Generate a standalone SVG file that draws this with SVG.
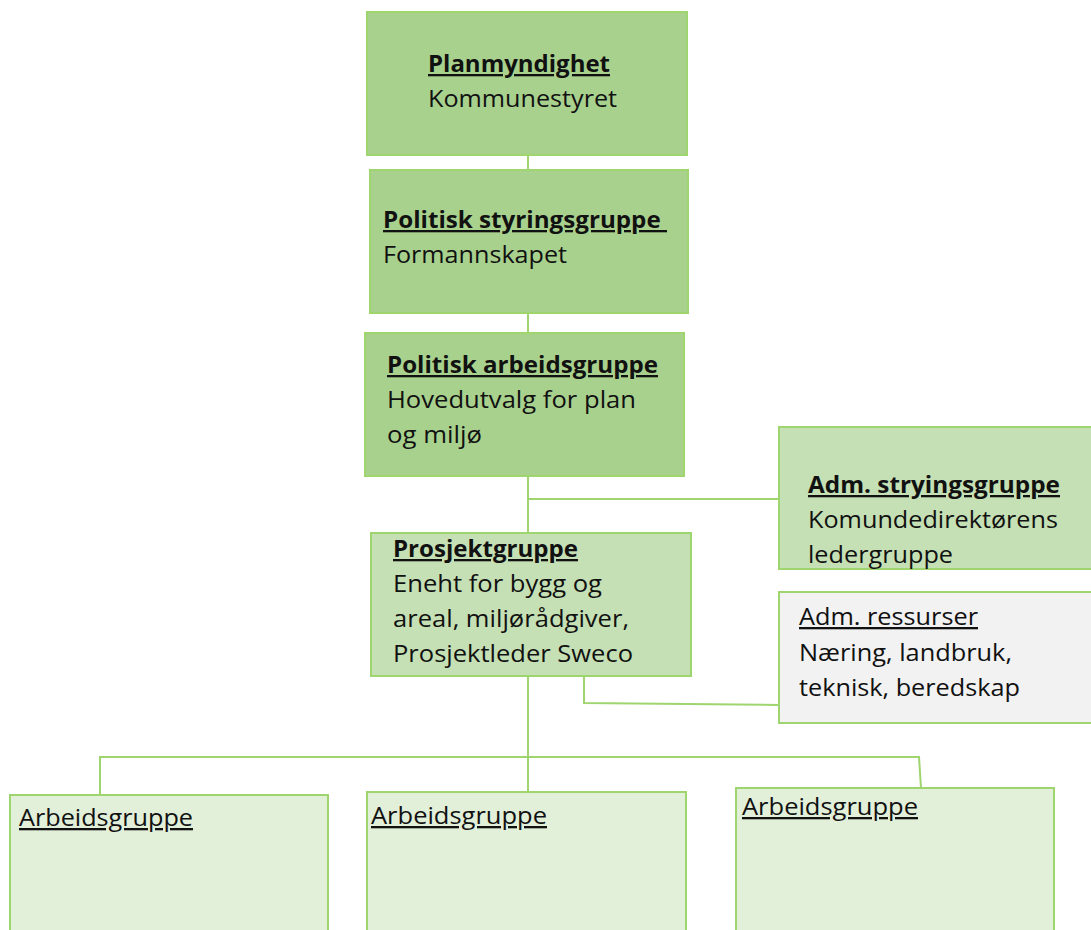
<svg xmlns="http://www.w3.org/2000/svg" width="1091" height="930" viewBox="0 0 1091 930">
<style>
.box{stroke:#9fd56f;stroke-width:2}
.d{fill:#a9d18e}
.m{fill:#c5e0b4}
.l{fill:#e2efd9}
.g{fill:#f2f2f2}
.c{fill:none;stroke:#9fd56f;stroke-width:2}
text{font-family:"Open Sans","Noto Sans","Liberation Sans",sans-serif;font-size:23px;fill:#111}
.b{font-weight:bold;text-decoration:underline}
.u{text-decoration:underline}
</style>
<rect width="1091" height="930" fill="#fff"/>
<g id="connectors">
<line class="c" x1="528" y1="155" x2="528" y2="170"/>
<line class="c" x1="528" y1="313" x2="528" y2="333"/>
<line class="c" x1="528" y1="476" x2="528" y2="533"/>
<line class="c" x1="528" y1="499" x2="779" y2="499"/>
<polyline class="c" points="584,676 584,703 779,705"/>
<line class="c" x1="528" y1="676" x2="528" y2="792"/>
<polyline class="c" points="100,795 100,757 919,757 921,788"/>
</g>
<g id="planmyndighet">
<rect class="box d" x="367" y="12" width="320" height="143"/>
<text class="b" x="428" y="72" textLength="182" lengthAdjust="spacingAndGlyphs">Planmyndighet</text>
<text x="428" y="107" textLength="189" lengthAdjust="spacingAndGlyphs">Kommunestyret</text>
</g>
<g id="politisk-styringsgruppe">
<rect class="box d" x="370" y="170" width="318" height="143"/>
<text class="b" x="383" y="228" textLength="284" lengthAdjust="spacingAndGlyphs" xml:space="preserve">Politisk styringsgruppe </text>
<text x="383" y="263" textLength="184" lengthAdjust="spacingAndGlyphs">Formannskapet</text>
</g>
<g id="politisk-arbeidsgruppe">
<rect class="box d" x="365" y="333" width="319" height="143"/>
<text class="b" x="387" y="373" textLength="271" lengthAdjust="spacingAndGlyphs">Politisk arbeidsgruppe</text>
<text x="387" y="408" textLength="249" lengthAdjust="spacingAndGlyphs">Hovedutvalg for plan</text>
<text x="387" y="443" textLength="95" lengthAdjust="spacingAndGlyphs">og miljø</text>
</g>
<g id="adm-styringsgruppe">
<rect class="box m" x="779" y="427" width="320" height="142"/>
<text class="b" x="808" y="493" textLength="252" lengthAdjust="spacingAndGlyphs">Adm. stryingsgruppe</text>
<text x="808" y="528" textLength="250" lengthAdjust="spacingAndGlyphs">Komundedirektørens</text>
<text x="808" y="563" textLength="145" lengthAdjust="spacingAndGlyphs">ledergruppe</text>
</g>
<g id="prosjektgruppe">
<rect class="box m" x="371" y="533" width="320" height="143"/>
<text class="b" x="393" y="557" textLength="185" lengthAdjust="spacingAndGlyphs">Prosjektgruppe</text>
<text x="393" y="592" textLength="209" lengthAdjust="spacingAndGlyphs">Eneht for bygg og</text>
<text x="393" y="627" textLength="236" lengthAdjust="spacingAndGlyphs">areal, miljørådgiver,</text>
<text x="393" y="662" textLength="240" lengthAdjust="spacingAndGlyphs">Prosjektleder Sweco</text>
</g>
<g id="adm-ressurser">
<rect class="box g" x="779" y="592" width="320" height="131"/>
<text class="u" x="799" y="625" textLength="179" lengthAdjust="spacingAndGlyphs">Adm. ressurser</text>
<text x="799" y="661" textLength="213" lengthAdjust="spacingAndGlyphs">Næring, landbruk,</text>
<text x="799" y="696" textLength="221" lengthAdjust="spacingAndGlyphs">teknisk, beredskap</text>
</g>
<g id="arbeidsgruppe-1">
<rect class="box l" x="10" y="795" width="318" height="145"/>
<text class="u" x="19" y="826" textLength="174" lengthAdjust="spacingAndGlyphs">Arbeidsgruppe</text>
</g>
<g id="arbeidsgruppe-2">
<rect class="box l" x="367" y="792" width="319" height="148"/>
<text class="u" x="371" y="824" textLength="176" lengthAdjust="spacingAndGlyphs">Arbeidsgruppe</text>
</g>
<g id="arbeidsgruppe-3">
<rect class="box l" x="736" y="788" width="318" height="152"/>
<text class="u" x="742" y="815" textLength="176" lengthAdjust="spacingAndGlyphs">Arbeidsgruppe</text>
</g>
</svg>
